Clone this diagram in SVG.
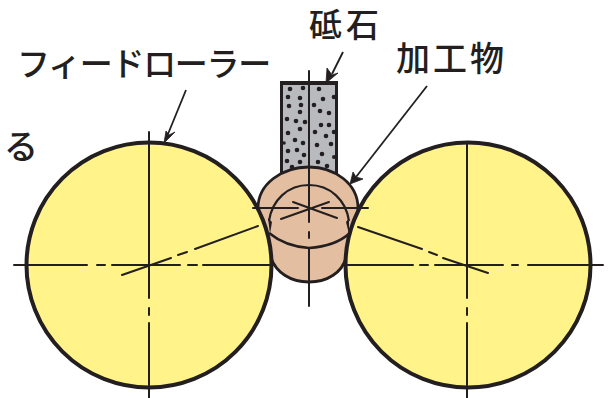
<svg xmlns="http://www.w3.org/2000/svg" width="610" height="398" viewBox="0 0 610 398">
<style>
.t{font-family:"Noto Sans CJK JP","Noto Sans",sans-serif;font-size:33px;font-weight:500;fill:#231f20}
.c{stroke:#231f20;fill:none;stroke-width:2;stroke-linecap:round}
.o{stroke:#231f20;stroke-width:4;fill:#fff389}
.d{fill:#231f20;stroke:none}
.a{fill:#231f20;stroke:#231f20;stroke-width:.8;stroke-linejoin:round}
</style>
<rect width="610" height="398" fill="#fff"/>
<g id="grindstone">
<rect x="281.5" y="83" width="55" height="95" fill="#b8babd" stroke="#231f20" stroke-width="3"/>
<path d="M280 83H338" stroke="#231f20" stroke-width="4" fill="none"/>
<g class="d">
<circle cx="290" cy="89" r="2.3"/><circle cx="303" cy="88" r="2.3"/><circle cx="319" cy="89" r="2.3"/><circle cx="288" cy="97" r="2.3"/><circle cx="300" cy="98" r="2.3"/><circle cx="323" cy="99" r="2.3"/><circle cx="289" cy="106" r="2.3"/><circle cx="301" cy="105" r="2.3"/><circle cx="314" cy="105" r="2.3"/><circle cx="300" cy="112" r="2.3"/><circle cx="320" cy="111" r="2.3"/><circle cx="329" cy="113" r="2.3"/><circle cx="287" cy="119" r="2.3"/><circle cx="296" cy="121" r="2.3"/><circle cx="305" cy="122" r="2.3"/><circle cx="321" cy="125" r="2.3"/><circle cx="329" cy="125" r="2.3"/><circle cx="300" cy="129" r="2.3"/><circle cx="288" cy="133" r="2.3"/><circle cx="315" cy="132" r="2.3"/><circle cx="326" cy="136" r="2.3"/><circle cx="295" cy="140" r="2.3"/><circle cx="303" cy="143" r="2.3"/><circle cx="317" cy="145" r="2.3"/><circle cx="331" cy="144" r="2.3"/><circle cx="288" cy="151" r="2.3"/><circle cx="297" cy="150" r="2.3"/><circle cx="304" cy="155" r="2.3"/><circle cx="322" cy="154" r="2.3"/><circle cx="287" cy="161" r="2.3"/><circle cx="300" cy="162" r="2.3"/><circle cx="318" cy="162" r="2.3"/><circle cx="327" cy="166" r="2.3"/><circle cx="292" cy="167" r="2.3"/><circle cx="334" cy="97" r="2.3"/><circle cx="334" cy="132" r="2.3"/><circle cx="334" cy="157" r="2"/><circle cx="284" cy="143" r="1.8"/>
</g>
</g>
<g id="workpiece">
<path d="M258 208C258 184 282 167 309 167C335 167 358 184 358 208L358 235L346 258C342 272 328 282 309 282C290 282 276 272 271 258L258 235Z" fill="#e3bea1" stroke="#231f20" stroke-width="2.8"/>
<path d="M269 221C272 200 288 185 309 185C330 185 346 200 349 221" fill="none" stroke="#231f20" stroke-width="2.2"/>
<path d="M269 233C280 242 294 247 309 248C324 247 340 242 350 233" fill="none" stroke="#231f20" stroke-width="2.6"/>
</g>
<g id="roller-left"><circle class="o" cx="149" cy="265" r="122.5"/></g>
<g id="roller-right"><circle class="o" cx="468" cy="265" r="122.5"/></g>
<path d="M268 218L272 222L270 234Z M349 218L346 222L349 234Z" fill="#231f20"/>
<g id="connectors">
<path class="c" d="M309 71V222M309 232V238M309 248V306"/>
<path class="c" d="M253 208H298M322 208H368"/>
<path class="c" d="M293 202L337 218M329 202L281 219M258 226L195 249M187 252L178 255M171 258L122 275M358 227L422 249M429 252L437 255M443 258L488 273"/>
<path class="c" d="M14 265H87M97 265H105M112 265H180M188 265H197M203 265H273M343 265H413M420 265H428M435 265H503M512 265H518M528 265H603"/>
<path class="c" d="M149 132V298M149 308V315M149 323V398M467 143V298M467 308V315M467 323V398"/>
<g class="a">
<path d="M186 90L168 134" fill="none" stroke-width="1.8"/><path d="M164 143L166 131L169 135L175 132Z"/>
<path d="M343 52L332 74" fill="none" stroke-width="1.8"/><path d="M326 83L327 68L332 75L338 73Z"/>
<path d="M427 86L356 177" fill="none" stroke-width="1.8"/><path d="M350 184L353 172L356 177L363 179Z"/>
</g>
</g>
<text class="t" x="17" y="76" letter-spacing="-1.3">フィードローラー</text>
<text class="t" x="309" y="37" letter-spacing="4">砥石</text>
<text class="t" x="396" y="71" style="font-size:34px" letter-spacing="3">加工物</text>
<text class="t" x="4" y="159" style="font-size:34px">る</text>
</svg>
